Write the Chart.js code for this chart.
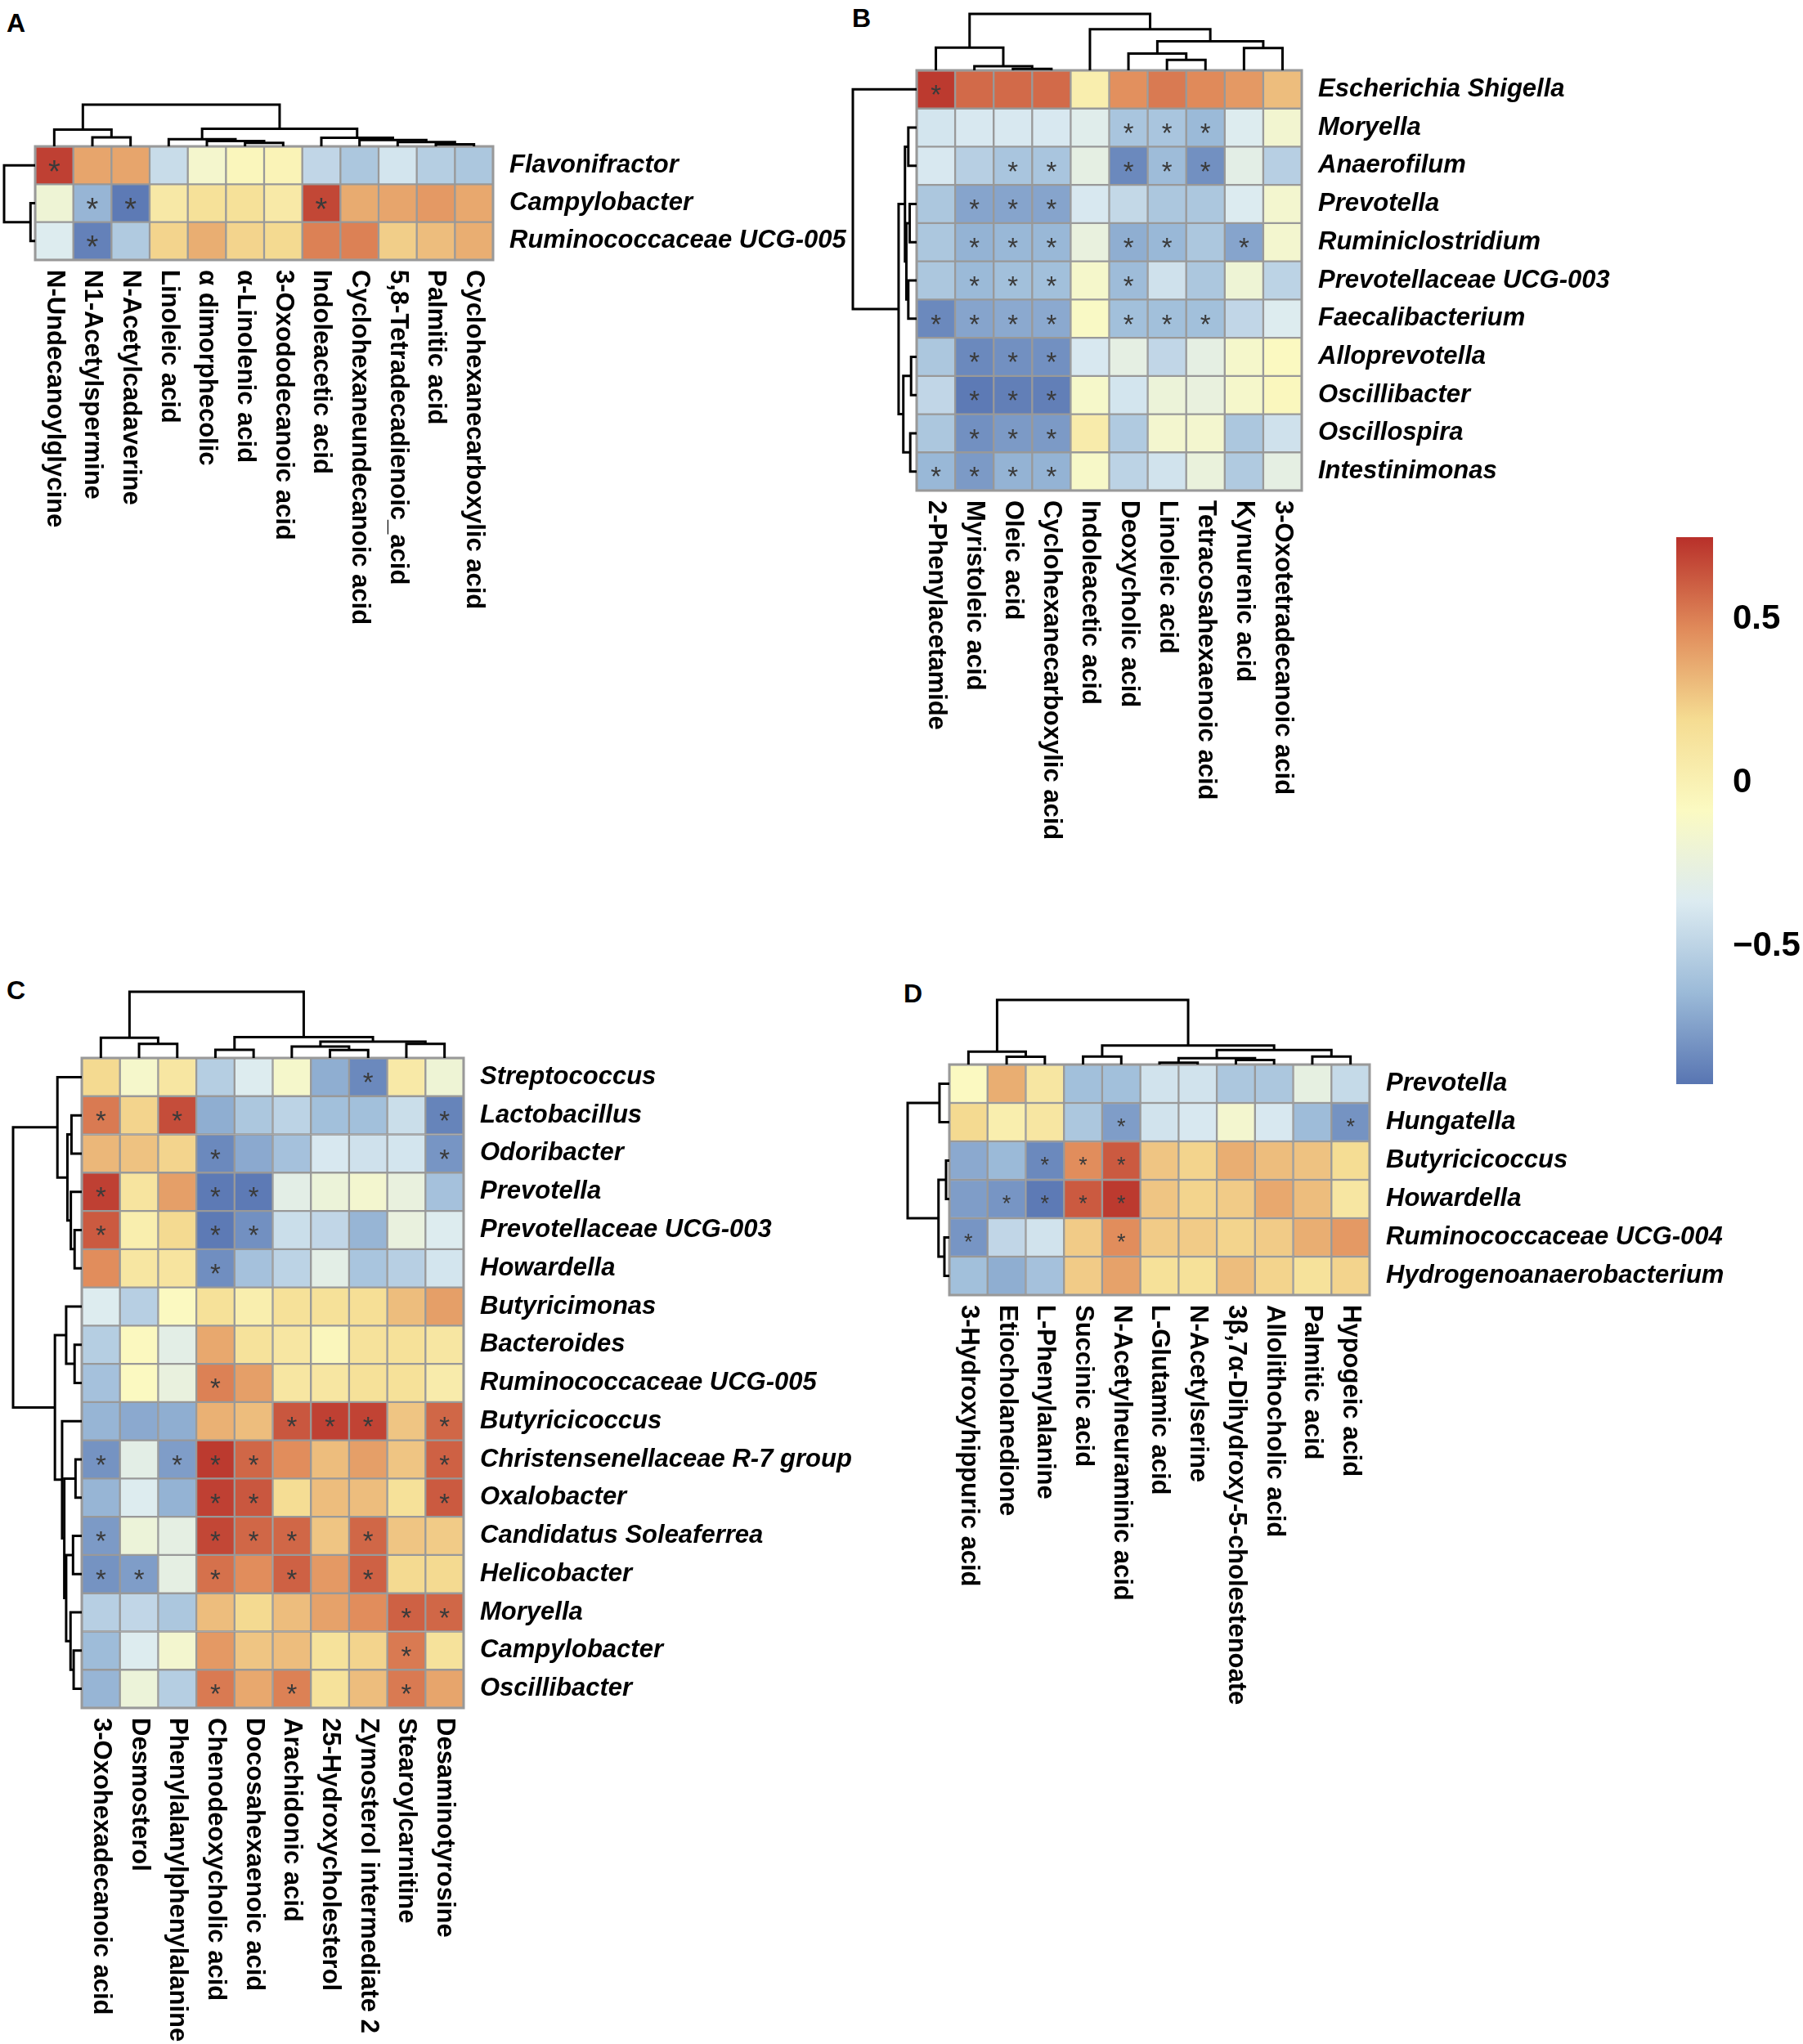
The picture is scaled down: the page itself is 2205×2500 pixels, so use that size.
<!DOCTYPE html>
<html>
<head>
<meta charset="utf-8">
<title>Correlation heatmaps</title>
<script src="https://cdn.jsdelivr.net/npm/chart.js@4.4.1/dist/chart.umd.min.js"></script>
<style>
    html, body { margin: 0; padding: 0; background: #ffffff; }
    body { width: 2205px; height: 2500px; position: relative; overflow: hidden; }
    .box { position: absolute; }
    .tag { position: absolute; font: bold 32px "Liberation Sans", Arial, sans-serif; line-height: 32px; color: #000; }
</style>
</head>
<body>
<div class="tag" style="left:8px;top:12px">A</div>
<div class="tag" style="left:1042px;top:6px">B</div>
<div class="tag" style="left:8px;top:1195px">C</div>
<div class="tag" style="left:1105px;top:1199px">D</div>
<script>
/* ==========================================================
   DATA
   merges: [a, b, height]; a/b >= 0 is a leaf position,
   a/b < 0 points to an earlier merge (-1 = first merge)
========================================================== */

const scaleMin = -0.92;
const scaleMax = 0.75;
const legendTicks = [-0.5, 0, 0.5];
const palette = ["#5875B2", "#9BBAD8", "#DCEBF1", "#FBFAC2", "#F5DC92", "#E08A5A", "#B8302A"];

/* ---------- A ---------- */
const aRows = ["Flavonifractor", "Campylobacter", "Ruminococcaceae UCG-005"];
const aCols = ["N-Undecanoylglycine", "N1-Acetylspermine", "N-Acetylcadaverine", "Linoleic acid",
    "α dimorphecolic", "α-Linolenic acid", "3-Oxododecanoic acid", "Indoleacetic acid",
    "Cyclohexaneundecanoic acid", "5,8-Tetradecadienoic_acid", "Palmitic acid", "Cyclohexanecarboxylic acid"];
const aValues = [
    [0.70, 0.38, 0.38, -0.45, -0.15, -0.05, -0.02, -0.48, -0.57, -0.40, -0.53, -0.57],
    [-0.20, -0.66, -0.90, 0.08, 0.15, 0.15, 0.07, 0.68, 0.36, 0.38, 0.42, 0.37],
    [-0.35, -0.87, -0.55, 0.22, 0.35, 0.22, 0.20, 0.50, 0.50, 0.24, 0.30, 0.35]
];
const aStars = ["*...........", ".**....*....", ".*.........."];
const aColMerges = [[5, 6, 12], [4, -1, 19], [3, -2, 25], [10, 11, 7], [9, -4, 15], [8, -5, 22],
    [7, -6, 30], [1, 2, 32], [0, -8, 59], [-3, -7, 62], [-9, -10, 147]];
const aRowMerges = [[1, 2, 15], [0, -1, 100]];

/* ---------- B ---------- */
const bRows = ["Escherichia Shigella", "Moryella", "Anaerofilum", "Prevotella", "Ruminiclostridium",
    "Prevotellaceae UCG-003", "Faecalibacterium", "Alloprevotella", "Oscillibacter", "Oscillospira", "Intestinimonas"];
const bCols = ["2-Phenylacetamide", "Myristoleic acid", "Oleic acid", "Cyclohexanecarboxylic acid",
    "Indoleacetic acid", "Deoxycholic acid", "Linoleic acid", "Tetracosahexaenoic acid",
    "Kynurenic acid", "3-Oxotetradecanoic acid"];
const bValues = [
    [0.72, 0.57, 0.57, 0.57, 0.03, 0.45, 0.52, 0.47, 0.42, 0.30],
    [-0.40, -0.38, -0.38, -0.38, -0.33, -0.58, -0.58, -0.64, -0.35, -0.17],
    [-0.38, -0.52, -0.58, -0.58, -0.28, -0.84, -0.63, -0.81, -0.30, -0.52],
    [-0.57, -0.73, -0.73, -0.73, -0.38, -0.47, -0.57, -0.57, -0.36, -0.16],
    [-0.57, -0.67, -0.65, -0.65, -0.25, -0.69, -0.65, -0.57, -0.73, -0.16],
    [-0.57, -0.64, -0.61, -0.61, -0.14, -0.63, -0.42, -0.57, -0.20, -0.50],
    [-0.84, -0.73, -0.71, -0.71, -0.10, -0.61, -0.61, -0.61, -0.48, -0.35],
    [-0.57, -0.84, -0.81, -0.81, -0.38, -0.28, -0.48, -0.28, -0.14, -0.08],
    [-0.48, -0.90, -0.88, -0.88, -0.13, -0.40, -0.22, -0.25, -0.14, -0.06],
    [-0.57, -0.81, -0.77, -0.77, 0.05, -0.55, -0.16, -0.16, -0.57, -0.42],
    [-0.65, -0.77, -0.67, -0.67, -0.12, -0.50, -0.41, -0.24, -0.55, -0.28]
];
const bStars = ["*.........", ".....***..", "..**.***..", ".***......", ".***.**.*.",
    ".***.*....", "****.***..", ".***......", ".***......", ".***......", "****......"];
const bColMerges = [[2, 3, 5], [1, -1, 15], [0, -2, 83], [6, 7, 38], [5, -4, 61], [8, 9, 81],
    [-5, -6, 106], [4, -7, 150], [-3, -8, 206]];
const bRowMerges = [[1, 2, 30], [3, 4, 25], [5, 6, 30], [-2, -3, 37], [-1, -4, 42], [7, 8, 20],
    [9, 10, 23], [-6, -7, 48], [-5, -8, 65], [0, -9, 230]];

/* ---------- C ---------- */
const cRows = ["Streptococcus", "Lactobacillus", "Odoribacter", "Prevotella", "Prevotellaceae UCG-003",
    "Howardella", "Butyricimonas", "Bacteroides", "Ruminococcaceae UCG-005", "Butyricicoccus",
    "Christensenellaceae R-7 group", "Oxalobacter", "Candidatus Soleaferrea", "Helicobacter",
    "Moryella", "Campylobacter", "Oscillibacter"];
const cCols = ["3-Oxohexadecanoic acid", "Desmosterol", "Phenylalanylphenylalanine", "Chenodeoxycholic acid",
    "Docosahexaenoic acid", "Arachidonic acid", "25-Hydroxycholesterol", "Zymosterol intermediate 2",
    "Stearoylcarnitine", "Desaminotyrosine"];
const cValues = [
    [0.20, -0.14, 0.10, -0.53, -0.35, -0.14, -0.69, -0.84, 0.07, -0.20],
    [0.52, 0.22, 0.66, -0.69, -0.57, -0.50, -0.61, -0.61, -0.44, -0.86],
    [0.32, 0.28, 0.22, -0.84, -0.71, -0.60, -0.38, -0.42, -0.40, -0.79],
    [0.70, 0.12, 0.40, -0.90, -0.90, -0.30, -0.22, -0.16, -0.25, -0.60],
    [0.62, 0.03, 0.20, -0.90, -0.81, -0.44, -0.48, -0.66, -0.25, -0.35],
    [0.46, 0.10, 0.12, -0.82, -0.60, -0.50, -0.30, -0.58, -0.52, -0.40],
    [-0.35, -0.52, -0.08, 0.15, 0.03, 0.15, 0.15, 0.17, 0.30, 0.40],
    [-0.53, -0.07, -0.30, 0.37, 0.14, 0.10, -0.05, 0.14, 0.15, 0.10],
    [-0.60, -0.08, -0.25, 0.50, 0.40, 0.10, 0.10, 0.15, 0.15, 0.05],
    [-0.66, -0.71, -0.69, 0.34, 0.30, 0.63, 0.70, 0.69, 0.27, 0.58],
    [-0.80, -0.30, -0.76, 0.72, 0.58, 0.46, 0.30, 0.40, 0.27, 0.60],
    [-0.66, -0.35, -0.67, 0.70, 0.63, 0.18, 0.30, 0.30, 0.15, 0.62],
    [-0.77, -0.22, -0.28, 0.68, 0.58, 0.58, 0.27, 0.58, 0.27, 0.25],
    [-0.80, -0.76, -0.28, 0.55, 0.46, 0.60, 0.42, 0.60, 0.20, 0.20],
    [-0.52, -0.48, -0.57, 0.30, 0.20, 0.30, 0.39, 0.46, 0.60, 0.58],
    [-0.63, -0.35, -0.16, 0.42, 0.27, 0.30, 0.14, 0.22, 0.52, 0.14],
    [-0.66, -0.22, -0.53, 0.52, 0.37, 0.50, 0.14, 0.30, 0.52, 0.38]
];
const cStars = [".......*..", "*.*......*", "...*.....*", "*..**.....", "*..**.....",
    "...*......", "..........", "..........", "...*......", ".....***.*",
    "*.***....*", "...**....*", "*..***.*..", "**.*.*.*..", "........**",
    "........*.", "...*.*..*."];
const cColMerges = [[1, 2, 53], [0, -1, 76], [3, 4, 31], [6, 7, 30], [5, -4, 43], [8, 9, 53],
    [-5, -6, 61], [-3, -7, 78], [-2, -8, 248]];
const cRowMerges = [[4, 5, 23], [3, -1, 35], [1, 2, 33], [-3, -2, 46], [0, -4, 78],
    [7, 8, 23], [6, -6, 50], [10, 11, 20], [12, 13, 28], [15, 16, 26], [14, -10, 36],
    [-9, -11, 50], [-8, -12, 56], [9, -13, 63], [-7, -14, 86], [-5, -15, 220]];

/* ---------- D ---------- */
const dRows = ["Prevotella", "Hungatella", "Butyricicoccus", "Howardella",
    "Ruminococcaceae UCG-004", "Hydrogenoanaerobacterium"];
const dCols = ["3-Hydroxyhippuric acid", "Etiocholanedione", "L-Phenylalanine", "Succinic acid",
    "N-Acetylneuraminic acid", "L-Glutamic acid", "N-Acetylserine", "3β,7α-Dihydroxy-5-cholestenoate",
    "Allolithocholic acid", "Palmitic acid", "Hypogeic acid"];
const dValues = [
    [-0.08, 0.35, 0.10, -0.61, -0.61, -0.41, -0.41, -0.57, -0.57, -0.27, -0.46],
    [0.20, 0.03, 0.10, -0.57, -0.76, -0.41, -0.38, -0.16, -0.38, -0.63, -0.80],
    [-0.71, -0.64, -0.84, 0.46, 0.62, 0.27, 0.22, 0.35, 0.30, 0.28, 0.18],
    [-0.76, -0.79, -0.90, 0.62, 0.72, 0.27, 0.22, 0.25, 0.37, 0.30, 0.10],
    [-0.79, -0.48, -0.41, 0.25, 0.46, 0.25, 0.25, 0.22, 0.25, 0.35, 0.42],
    [-0.61, -0.69, -0.60, 0.25, 0.39, 0.15, 0.15, 0.30, 0.22, 0.14, 0.22]
];
const dStars = ["...........", "....*.....*", "..***......", ".****......", "*...*......", "..........."];
const dColMerges = [[1, 2, 29], [0, -1, 49], [3, 4, 30], [5, 6, 7], [7, 8, 17], [-4, -5, 24],
    [9, 10, 30], [-6, -7, 55], [-3, -8, 72], [-2, -9, 244]];
const dRowMerges = [[0, 1, 30], [2, 3, 10], [4, 5, 15], [-2, -3, 33], [-1, -4, 127]];

/* ==========================================================
   LAYOUT (page pixels)
========================================================== */

const FONT = "'Liberation Sans', Arial, Helvetica, sans-serif";
const GRID = "#999999";

const boxA = { left: 43, top: 179, width: 560, height: 139, dendroTop: 128, dendroLeft: 5, labelW: 460, colLabelH: 470, starSize: 38 };
const boxB = { left: 1121, top: 86, width: 471, height: 514, dendroTop: 17, dendroLeft: 1043, labelW: 420, colLabelH: 470, starSize: 33 };
const boxC = { left: 100, top: 1294, width: 467, height: 795, dendroTop: 1213, dendroLeft: 16, labelW: 500, colLabelH: 411, starSize: 33 };
const boxD = { left: 1161, top: 1302, width: 514, height: 282, dendroTop: 1223, dendroLeft: 1110, labelW: 480, colLabelH: 560, starSize: 27 };
const boxLegend = { left: 2050, top: 657, width: 45, height: 669, labelW: 150 };

Chart.defaults.font.family = FONT;
Chart.defaults.color = "#000";

/* ==========================================================
   HELPERS
========================================================== */

function hexToRgb(hex) {
    const n = parseInt(hex.slice(1), 16);
    return [(n >> 16) & 255, (n >> 8) & 255, n & 255];
}

function valueColor(v) {
    const t = Math.min(1, Math.max(0, (v - scaleMin) / (scaleMax - scaleMin))) * (palette.length - 1);
    const i = Math.min(palette.length - 2, Math.floor(t));
    const f = t - i;
    const c0 = hexToRgb(palette[i]);
    const c1 = hexToRgb(palette[i + 1]);
    const rgb = c0.map((c, k) => Math.round(c + (c1[k] - c) * f));
    return "rgb(" + rgb.join(",") + ")";
}

function addCanvas(left, top, width, height) {
    const div = document.createElement("div");
    div.className = "box";
    div.style.left = left + "px";
    div.style.top = top + "px";
    div.style.width = width + "px";
    div.style.height = height + "px";
    const canvas = document.createElement("canvas");
    div.appendChild(canvas);
    document.body.appendChild(div);
    return canvas;
}

// fixed label column, no extra room for half-height of end labels
function fixAxis(width) {
    return axis => {
        axis.width = width;
        axis.paddingTop = 0;
        axis.paddingBottom = 0;
    };
}

function dendroLinks(merges) {
    const pos = [];
    const hgt = [];
    return merges.map(([a, b, h], k) => {
        const pa = a >= 0 ? a : pos[-a - 1];
        const ha = a >= 0 ? 0 : hgt[-a - 1];
        const pb = b >= 0 ? b : pos[-b - 1];
        const hb = b >= 0 ? 0 : hgt[-b - 1];
        pos[k] = (pa + pb) / 2;
        hgt[k] = h;
        return [[pa, ha], [pa, h], [pb, h], [pb, hb]];
    });
}

/* ==========================================================
   HEATMAP EXTRAS: frame, stars, rotated column labels
========================================================== */

function heatExtras(cols, stars, starSize) {
    return {
        id: "heatExtras",
        afterDatasetsDraw(chart) {
            const { ctx, chartArea: a } = chart;
            const x = chart.scales.x;
            const y = chart.scales.y;
            ctx.save();
            ctx.strokeStyle = GRID;
            ctx.lineWidth = 3;
            ctx.strokeRect(a.left, a.top, a.right - a.left, a.bottom - a.top);

            ctx.fillStyle = "#3a3a3a";
            ctx.font = starSize + "px " + FONT;
            ctx.textAlign = "center";
            ctx.textBaseline = "alphabetic";
            stars.forEach((line, r) => {
                [...line].forEach((ch, c) => {
                    if (ch === "*") {
                        ctx.fillText("*", x.getPixelForValue(c), y.getPixelForValue(r + 0.5) + starSize * 0.54);
                    }
                });
            });

            ctx.fillStyle = "#000";
            ctx.font = "bold 31px " + FONT;
            ctx.textAlign = "left";
            ctx.textBaseline = "middle";
            cols.forEach((name, c) => {
                ctx.save();
                ctx.translate(x.getPixelForValue(c), a.bottom + 12);
                ctx.rotate(Math.PI / 2);
                ctx.fillText(name, 0, 0);
                ctx.restore();
            });
            ctx.restore();
        }
    };
}

/* ==========================================================
   HEATMAP
========================================================== */

function drawHeatmap(rows, cols, values, stars, box) {
    const pad = 3;
    const canvas = addCanvas(box.left - pad, box.top - pad,
        box.width + pad + box.labelW, box.height + pad + box.colLabelH);

    const datasets = rows.map((name, r) => ({
        label: name,
        data: cols.map(() => [r, r + 1]),
        backgroundColor: values[r].map(valueColor),
        borderColor: GRID,
        borderWidth: 1.5,
        borderSkipped: false,
        barPercentage: 1,
        categoryPercentage: 1,
        grouped: false
    }));

    new Chart(canvas, {
        type: "bar",
        data: { labels: cols, datasets },
        options: {
            responsive: true,
            maintainAspectRatio: false,
            animation: false,
            layout: { padding: { left: pad, top: pad, right: 0, bottom: box.colLabelH } },
            plugins: { legend: { display: false }, tooltip: { enabled: false } },
            scales: {
                x: { display: false },
                y: {
                    type: "linear",
                    position: "right",
                    reverse: true,
                    min: 0,
                    max: rows.length,
                    grid: { display: false },
                    border: { display: false },
                    afterBuildTicks: axis => { axis.ticks = rows.map((n, i) => ({ value: i + 0.5 })); },
                    afterFit: fixAxis(box.labelW),
                    ticks: {
                        autoSkip: false,
                        padding: 12,
                        color: "#000",
                        font: { size: 31, weight: "bold", style: "italic" },
                        callback: (v, i) => rows[i]
                    }
                }
            }
        },
        plugins: [heatExtras(cols, stars, box.starSize)]
    });
}

/* ==========================================================
   DENDROGRAMS
========================================================== */

function drawDendro(merges, nLeaves, side, box) {
    const pad = 3;
    let left, top, width, height;
    if (side === "top") {
        left = box.left; top = box.dendroTop; width = box.width; height = box.top - box.dendroTop;
    } else {
        left = box.dendroLeft; top = box.top; width = box.left - box.dendroLeft; height = box.height;
    }
    const canvas = addCanvas(left - pad, top - pad, width + 2 * pad, height + 2 * pad);
    const rootH = Math.max(...merges.map(m => m[2]));

    const datasets = dendroLinks(merges).map(link => ({
        data: link.map(([p, h]) => side === "top" ? { x: p, y: h } : { x: h, y: p }),
        showLine: true,
        borderColor: "#000",
        borderWidth: 3,
        pointRadius: 0,
        clip: false
    }));

    const leafAxis = { type: "linear", display: false, min: -0.5, max: nLeaves - 0.5 };
    const heightAxis = { type: "linear", display: false, min: 0, max: rootH };

    new Chart(canvas, {
        type: "scatter",
        data: { datasets },
        options: {
            responsive: true,
            maintainAspectRatio: false,
            animation: false,
            layout: { padding: pad },
            plugins: { legend: { display: false }, tooltip: { enabled: false } },
            scales: side === "top"
                ? { x: leafAxis, y: heightAxis }
                : { x: { ...heightAxis, reverse: true }, y: { ...leafAxis, reverse: true } }
        }
    });
}

/* ==========================================================
   COLOUR KEY
========================================================== */

function drawLegend(box) {
    const canvas = addCanvas(box.left, box.top, box.width + box.labelW, box.height);

    new Chart(canvas, {
        type: "bar",
        data: {
            labels: [""],
            datasets: [{
                data: [[scaleMin, scaleMax]],
                backgroundColor: context => {
                    const area = context.chart.chartArea;
                    if (!area) return palette[3];
                    const g = context.chart.ctx.createLinearGradient(0, area.bottom, 0, area.top);
                    palette.forEach((c, i) => g.addColorStop(i / (palette.length - 1), c));
                    return g;
                },
                borderWidth: 0,
                barPercentage: 1,
                categoryPercentage: 1
            }]
        },
        options: {
            responsive: true,
            maintainAspectRatio: false,
            animation: false,
            layout: { padding: 0 },
            plugins: { legend: { display: false }, tooltip: { enabled: false } },
            scales: {
                x: { display: false },
                y: {
                    type: "linear",
                    position: "right",
                    min: scaleMin,
                    max: scaleMax,
                    grid: { display: false },
                    border: { display: false },
                    afterBuildTicks: axis => { axis.ticks = legendTicks.map(v => ({ value: v })); },
                    afterFit: fixAxis(box.labelW),
                    ticks: {
                        padding: 16,
                        color: "#000",
                        font: { size: 42, weight: "bold" },
                        callback: v => v < 0 ? "\u2212" + Math.abs(v) : String(v)
                    }
                }
            }
        }
    });
}

/* ==========================================================
   INIT
========================================================== */

drawHeatmap(aRows, aCols, aValues, aStars, boxA);
drawDendro(aColMerges, aCols.length, "top", boxA);
drawDendro(aRowMerges, aRows.length, "left", boxA);

drawHeatmap(bRows, bCols, bValues, bStars, boxB);
drawDendro(bColMerges, bCols.length, "top", boxB);
drawDendro(bRowMerges, bRows.length, "left", boxB);

drawHeatmap(cRows, cCols, cValues, cStars, boxC);
drawDendro(cColMerges, cCols.length, "top", boxC);
drawDendro(cRowMerges, cRows.length, "left", boxC);

drawHeatmap(dRows, dCols, dValues, dStars, boxD);
drawDendro(dColMerges, dCols.length, "top", boxD);
drawDendro(dRowMerges, dRows.length, "left", boxD);

drawLegend(boxLegend);
</script>
</body>
</html>
